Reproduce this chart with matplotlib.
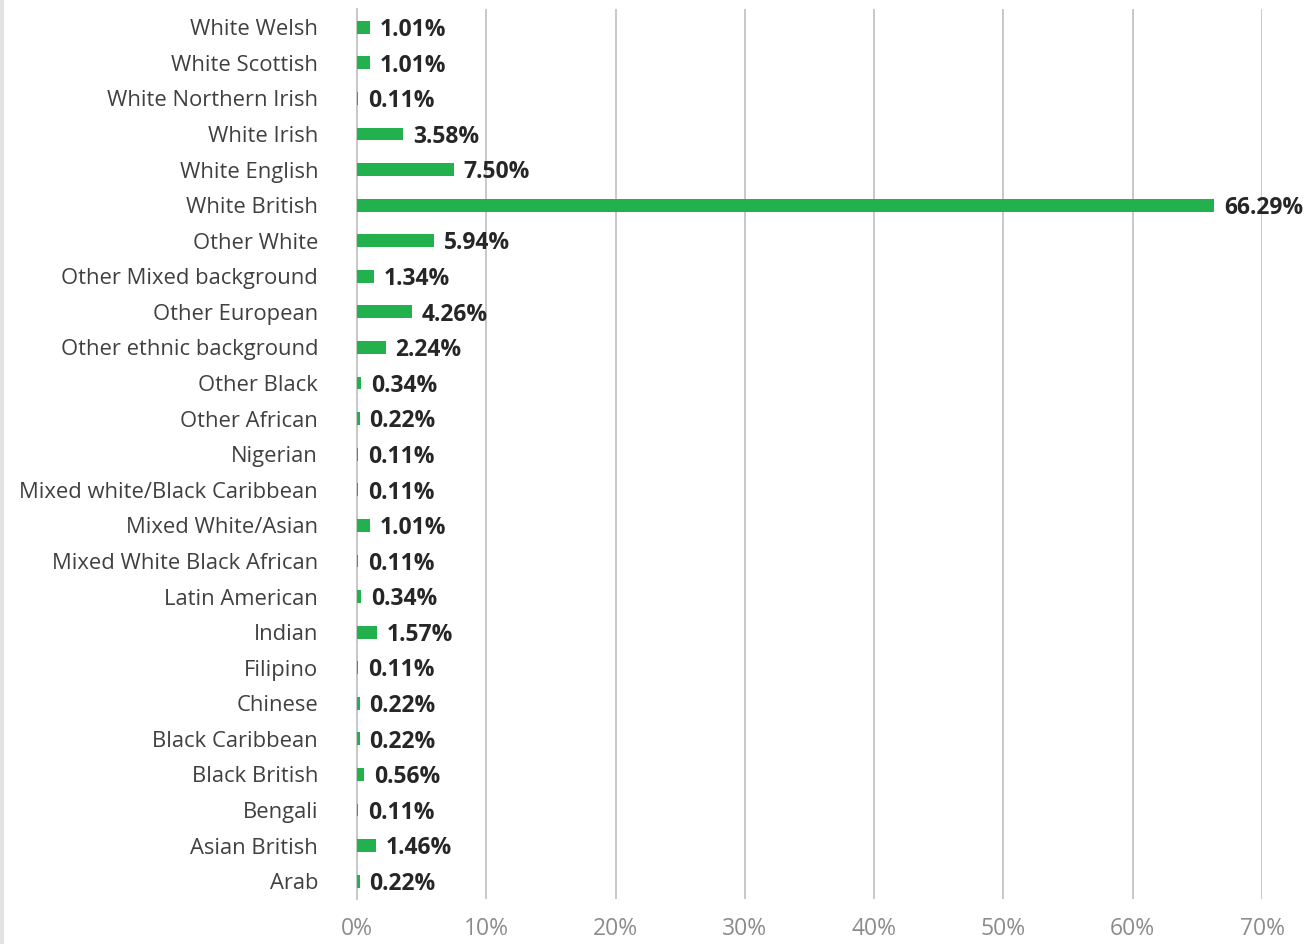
import matplotlib.pyplot as plt
from matplotlib.lines import Line2D
from matplotlib.ticker import FuncFormatter

# categories top to bottom as in the chart
categories = [
    "White Welsh", "White Scottish", "White Northern Irish", "White Irish",
    "White English", "White British", "Other White", "Other Mixed background",
    "Other European", "Other ethnic background", "Other Black", "Other African",
    "Nigerian", "Mixed white/Black Caribbean", "Mixed White/Asian",
    "Mixed White Black African", "Latin American", "Indian", "Filipino",
    "Chinese", "Black Caribbean", "Black British", "Bengali", "Asian British",
    "Arab",
]
percent = [
    1.01, 1.01, 0.11, 3.58, 7.50, 66.29, 5.94, 1.34, 4.26, 2.24, 0.34, 0.22,
    0.11, 0.11, 1.01, 0.11, 0.34, 1.57, 0.11, 0.22, 0.22, 0.56, 0.11, 1.46,
    0.22,
]
x_ticks = [0, 10, 20, 30, 40, 50, 60, 70]

plt.rcParams['font.family'] = ['Open Sans', 'DejaVu Sans']

fig = plt.figure(figsize=(13.09, 9.44), dpi=100)
ax = fig.add_axes([0.2727, 0.0477, 0.6914, 0.9423])

pos = list(range(len(categories)))
ax.barh(pos, percent, height=0.36, color="#22b14c", zorder=3)

for y, v in zip(pos, percent):
    ax.annotate(f"{v:.2f}%", xy=(v, y), xytext=(7, -2), textcoords="offset points",
                va="center", ha="left", fontsize=16.5, fontweight="bold",
                color="#262626", zorder=4)

ax.set_ylim(len(categories) - 0.5, -0.5)
ax.set_xlim(0, 70)
ax.set_yticks(pos)
ax.set_yticklabels(categories, fontsize=15.8, color="#404040")
ax.set_xticks(x_ticks)
ax.xaxis.set_major_formatter(FuncFormatter(lambda v, p: f"{v:.0f}%"))
ax.tick_params(axis="x", labelsize=16.5, labelcolor="#8c8c8c", length=0, pad=13)
ax.tick_params(axis="y", length=0, pad=28)

ax.grid(axis="x", color="#c8c8c8", linewidth=1.4, zorder=0)
for s in ["top", "right", "bottom"]:
    ax.spines[s].set_visible(False)
ax.spines["left"].set_color("#c8c8c8")
ax.spines["left"].set_linewidth(1.4)

fig.add_artist(Line2D([0.0015, 0.0015], [0, 1], color="#e3e3e3", linewidth=3,
                      transform=fig.transFigure))

fig.savefig("out.png", dpi=100)
